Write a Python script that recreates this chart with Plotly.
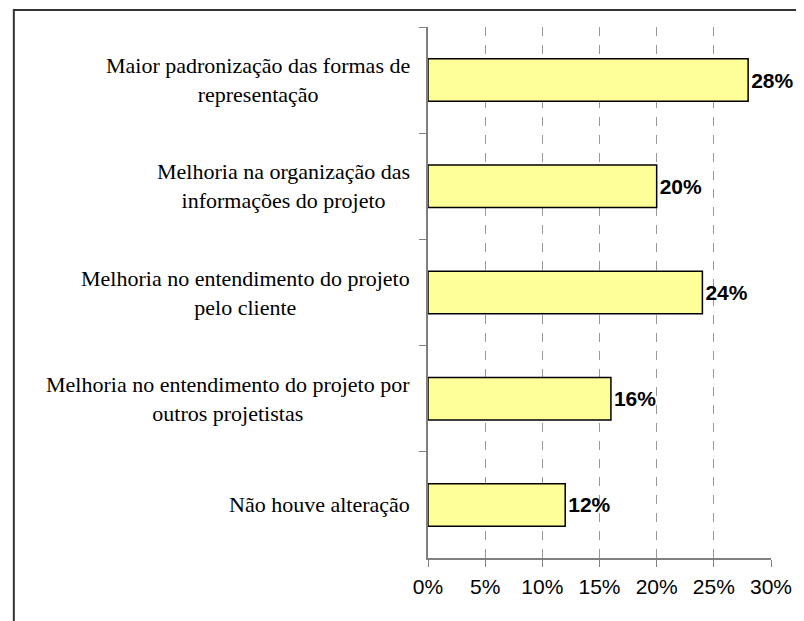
import plotly.graph_objects as go

categories = [
    "Maior padronização das formas de<br>representação",
    "Melhoria na organização das<br>informações do projeto",
    "Melhoria no entendimento do projeto<br>pelo cliente",
    "Melhoria no entendimento do projeto por<br>outros projetistas",
    "Não houve alteração",
]
values = [0.28, 0.20, 0.24, 0.16, 0.12]
x_ticks = [0, 0.05, 0.10, 0.15, 0.20, 0.25, 0.30]
x_tick_labels = ["0%", "5%", "10%", "15%", "20%", "25%", "30%"]

W, H = 796, 613
L, R, T, B = 420, 29, 19, 63
pw, ph = W - L - R, H - T - B

fig = go.Figure()
fig.add_trace(go.Bar(
    y=categories, x=values, orientation="h",
    marker=dict(color="#FFFF99", line=dict(color="#000000", width=1.5)),
    width=0.4,
    text=[f"{round(v*100)}%" for v in values],
    textposition="outside",
    textfont=dict(family="Liberation Sans", size=21, color="#000000"),
    texttemplate="<b>%{text}</b>",
    cliponaxis=False,
    hoverinfo="skip",
))

for c in categories:
    fig.add_annotation(
        xref="paper", yref="y", x=0, y=c, xanchor="right", yanchor="middle",
        text=c, showarrow=False, align="center", xshift=-16,
        font=dict(family="Liberation Serif", size=22, color="#000000"),
    )

# outer frame (partially visible)
fig.add_shape(type="rect", xref="paper", yref="paper",
              x0=(1 - L) / pw, x1=3, y0=-1, y1=(ph + T - 2) / ph,
              line=dict(color="#333333", width=2), fillcolor="rgba(0,0,0,0)", layer="below")

fig.update_layout(
    width=W, height=H,
    margin=dict(l=L, r=R, t=T, b=B),
    paper_bgcolor="white", plot_bgcolor="white",
    showlegend=False,
    font=dict(family="Liberation Sans"),
    xaxis=dict(
        range=[0, 0.30], tickvals=x_ticks, ticktext=x_tick_labels,
        showgrid=True, gridcolor="#999999", griddash="dash", gridwidth=1,
        showline=True, linecolor="#808080", linewidth=2,
        ticks="outside", ticklen=7, tickcolor="#808080", tickwidth=1,
        tickfont=dict(family="Liberation Sans", size=21, color="#000000"),
        ticklabelstandoff=2, zeroline=False, fixedrange=True,
    ),
    yaxis=dict(
        type="category", autorange="reversed", tickson="boundaries",
        showticklabels=False, showgrid=False,
        showline=True, linecolor="#808080", linewidth=2,
        ticks="outside", ticklen=7, tickcolor="#808080", tickwidth=1,
        fixedrange=True,
    ),
)

fig.write_html("out.html")
